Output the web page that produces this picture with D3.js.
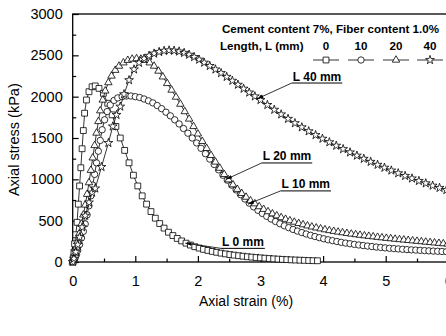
<!DOCTYPE html>
<html><head><meta charset="utf-8">
<script src="https://cdn.jsdelivr.net/npm/d3@7"></script>
<style>html,body{margin:0;padding:0;background:#fff}svg{display:block}</style>
</head><body>
<script>
// ---------- data ----------
const xTicks = [0,1,2,3,4,5,6];
const yTicks = [0,500,1000,1500,2000,2500,3000];
const legendTitle = "Cement content 7%, Fiber content 1.0%";
const legendSub = "Length, L (mm)";
const seriesNames = ["0","10","20","40"];
const seriesSymbols = ["square","circle","triangle","star"];

// L = 0 mm (squares): [strain %, stress kPa]
const dataL0 = [[0,0],[0.01,50],[0.02,120],[0.03,220],[0.05,330],[0.07,480],[0.09,700],[0.11,920],[0.13,1140],[0.15,1370],[0.17,1590],[0.19,1800],[0.22,1960],[0.26,2060],[0.31,2120],[0.36,2130],[0.42,2100],[0.49,2040],[0.56,1920],[0.63,1780],[0.69,1640],[0.76,1500],[0.83,1350],[0.90,1200],[0.97,1050],[1.04,920],[1.11,800],[1.18,700],[1.25,610],[1.32,530],[1.39,465],[1.46,410],[1.53,360],[1.60,320],[1.67,285],[1.74,255],[1.81,228],[1.88,205],[1.95,185],[2.02,168],[2.09,153],[2.16,140],[2.23,128],[2.30,117],[2.37,107],[2.44,98],[2.51,90],[2.58,83],[2.65,76],[2.72,70],[2.79,64],[2.86,59],[2.93,54],[3.00,50],[3.07,46],[3.14,42],[3.21,38],[3.28,35],[3.35,32],[3.42,29],[3.49,26],[3.56,24],[3.63,22],[3.70,20],[3.77,18],[3.84,16],[3.91,15]];

// L = 10 mm (circles)
const dataL10 = [[0,0],[0.02,20],[0.04,50],[0.06,90],[0.08,140],[0.11,210],[0.14,290],[0.17,370],[0.20,460],[0.23,570],[0.26,680],[0.29,800],[0.32,930],[0.35,1060],[0.38,1200],[0.41,1340],[0.44,1470],[0.47,1600],[0.51,1720],[0.55,1820],[0.60,1900],[0.66,1955],[0.72,1985],[0.79,2000],[0.86,2008],[0.93,2008],[1.00,2000],[1.07,1990],[1.14,1972],[1.21,1950],[1.28,1925],[1.35,1893],[1.42,1855],[1.49,1812],[1.56,1768],[1.63,1720],[1.70,1670],[1.77,1615],[1.84,1558],[1.91,1500],[1.98,1440],[2.05,1375],[2.12,1310],[2.19,1245],[2.26,1180],[2.33,1115],[2.40,1050],[2.47,990],[2.54,930],[2.61,872],[2.68,815],[2.75,762],[2.82,712],[2.89,667],[2.96,625],[3.03,587],[3.10,552],[3.17,520],[3.24,490],[3.31,463],[3.38,438],[3.45,415],[3.52,394],[3.59,374],[3.66,356],[3.73,339],[3.80,323],[3.87,308],[3.94,294],[4.01,281],[4.08,269],[4.15,258],[4.22,248],[4.29,238],[4.36,229],[4.43,221],[4.50,213],[4.57,206],[4.64,199],[4.71,193],[4.78,187],[4.85,181],[4.92,176],[4.99,171],[5.06,166],[5.13,162],[5.20,158],[5.27,154],[5.34,150],[5.41,147],[5.48,144],[5.55,141],[5.62,138],[5.69,135],[5.76,132],[5.83,130],[5.90,127],[5.97,125]];

// L = 20 mm (triangles)
const dataL20 = [[0,0],[0.02,50],[0.04,110],[0.06,180],[0.08,250],[0.11,350],[0.14,460],[0.17,570],[0.20,690],[0.23,820],[0.26,960],[0.29,1110],[0.32,1260],[0.35,1410],[0.38,1560],[0.41,1700],[0.44,1830],[0.48,1960],[0.52,2070],[0.57,2170],[0.62,2250],[0.68,2320],[0.74,2370],[0.81,2410],[0.88,2440],[0.95,2455],[1.02,2460],[1.09,2455],[1.16,2440],[1.23,2410],[1.30,2370],[1.37,2310],[1.44,2240],[1.51,2160],[1.58,2080],[1.65,1995],[1.72,1910],[1.79,1820],[1.86,1730],[1.93,1640],[2.00,1550],[2.07,1460],[2.14,1375],[2.21,1290],[2.28,1210],[2.35,1135],[2.42,1060],[2.49,995],[2.56,935],[2.63,880],[2.70,830],[2.77,785],[2.84,742],[2.91,705],[2.98,670],[3.05,638],[3.12,610],[3.19,584],[3.26,560],[3.33,538],[3.40,518],[3.47,500],[3.54,483],[3.61,467],[3.68,452],[3.75,438],[3.82,425],[3.89,413],[3.96,402],[4.03,391],[4.10,381],[4.17,372],[4.24,363],[4.31,355],[4.38,347],[4.45,339],[4.52,332],[4.59,325],[4.66,318],[4.73,312],[4.80,306],[4.87,300],[4.94,294],[5.01,288],[5.08,283],[5.15,277],[5.22,272],[5.29,267],[5.36,262],[5.43,257],[5.50,252],[5.57,247],[5.64,242],[5.71,237],[5.78,232],[5.85,227],[5.92,222],[5.99,218]];

// L = 40 mm (stars)
const dataL40 = [[0,0],[0.02,40],[0.05,120],[0.08,210],[0.11,300],[0.15,420],[0.20,560],[0.26,720],[0.31,840],[0.36,890],[0.46,1150],[0.57,1440],[0.64,1640],[0.70,1780],[0.76,1880],[0.82,2030],[0.90,2200],[0.98,2330],[1.06,2410],[1.14,2460],[1.22,2495],[1.30,2522],[1.38,2542],[1.46,2555],[1.54,2560],[1.62,2557],[1.70,2547],[1.78,2530],[1.86,2508],[1.94,2480],[2.02,2448],[2.10,2412],[2.19,2372],[2.28,2330],[2.37,2286],[2.46,2240],[2.55,2193],[2.64,2145],[2.73,2097],[2.82,2050],[2.91,2004],[3.00,1960],[3.11,1900],[3.22,1842],[3.33,1786],[3.44,1732],[3.55,1680],[3.66,1630],[3.77,1582],[3.88,1536],[3.99,1492],[4.10,1449],[4.21,1407],[4.32,1366],[4.43,1326],[4.54,1287],[4.65,1249],[4.76,1212],[4.87,1176],[4.98,1141],[5.09,1107],[5.20,1074],[5.31,1042],[5.42,1011],[5.53,981],[5.64,952],[5.75,924],[5.86,897],[5.97,871]];

// annotations: label, target point [strain, stress], label anchor [strain, stress] (left end of underline)
const annotLabels = ["L 40 mm","L 20 mm","L 10 mm","L 0 mm"];
const annotTargets = [[2.95,1975],[2.45,1000],[2.80,700],[1.80,228]];
const annotAnchors = [[3.50,2165],[3.02,1198],[3.32,860],[2.37,165]];

// ---------- drawing ----------
const W = 446, H = 336;
const FONT = "'Liberation Sans', Arial, sans-serif";
const svg = d3.select("body").append("svg").attr("width",W).attr("height",H)
  .style("font-family",FONT);
svg.append("rect").attr("width",W).attr("height",H).attr("fill","#fff");

const x = d3.scaleLinear().domain([0,6]).range([72.7,448.3]);
const y = d3.scaleLinear().domain([0,3000]).range([262,14]);

// frame
svg.append("rect").attr("x",x(0)).attr("y",y(3000)).attr("width",x(6)-x(0)).attr("height",y(0)-y(3000))
  .attr("fill","none").attr("stroke","#000").attr("stroke-width",1.3);

// axes
const xAxis = svg.append("g").attr("transform",`translate(0,${y(0)})`)
  .call(d3.axisBottom(x).tickValues(xTicks).tickSize(-6).tickPadding(14).tickFormat(d3.format("d")));
const xMinor = svg.append("g").attr("transform",`translate(0,${y(0)})`)
  .call(d3.axisBottom(x).tickValues(d3.range(0.5,6,1)).tickSize(-3.5).tickFormat(""));
const yAxis = svg.append("g").attr("transform",`translate(${x(0)},0)`)
  .call(d3.axisLeft(y).tickValues(yTicks).tickSize(-6).tickPadding(10).tickFormat(d3.format("d")));
const yMinor = svg.append("g").attr("transform",`translate(${x(0)},0)`)
  .call(d3.axisLeft(y).tickValues(d3.range(250,3000,500)).tickSize(-3.5).tickFormat(""));
[xAxis,xMinor,yAxis,yMinor].forEach(g=>{
  g.select(".domain").remove();
  g.selectAll("line").attr("stroke","#000").attr("stroke-width",1.2);
  g.selectAll("text").attr("fill","#000").style("font-size","14.5px").style("font-family",FONT);
});

svg.append("text").attr("x",246).attr("y",306).attr("text-anchor","middle")
  .style("font-size","14px").text("Axial strain (%)");
svg.append("text").attr("transform",`translate(19,${y(1480)}) rotate(-90)`).attr("text-anchor","middle")
  .style("font-size","14.5px").text("Axial stress (kPa)");

// symbols
const symType = {square:d3.symbolSquare, circle:d3.symbolCircle, triangle:d3.symbolTriangle, star:d3.symbolStar};
const symSize = {square:34, circle:32, triangle:24, star:24};
const allData = [dataL0, dataL10, dataL20, dataL40];

const clip = svg.append("clipPath").attr("id","plotclip").append("rect")
  .attr("x",x(0)-6).attr("y",y(3000)).attr("width",x(6)-x(0)+12).attr("height",y(0)-y(3000)+6);
const plot = svg.append("g").attr("clip-path","url(#plotclip)");
const line = d3.line().x(d=>x(d[0])).y(d=>y(d[1]));

allData.forEach((data,i)=>{
  const s = seriesSymbols[i];
  const g = plot.append("g");
  g.append("path").datum(data).attr("d",line).attr("fill","none").attr("stroke","#000").attr("stroke-width",0.8);
  g.selectAll("path.m").data(data).join("path").attr("class","m")
    .attr("transform",d=>`translate(${x(d[0])},${y(d[1])})`)
    .attr("d",d3.symbol(symType[s],symSize[s])())
    .attr("fill","#fff").attr("stroke","#000").attr("stroke-width",0.8);
});

// annotations
const ann = svg.append("g");
annotLabels.forEach((lab,i)=>{
  const ax = x(annotAnchors[i][0]), ay = y(annotAnchors[i][1]);
  const tx = x(annotTargets[i][0]), ty = y(annotTargets[i][1]);
  const t = ann.append("text").attr("x",ax+1).attr("y",ay-2.5).style("font-size","12px").style("font-weight","bold").text(lab);
  const w = t.node().getComputedTextLength();
  ann.append("line").attr("x1",ax).attr("x2",ax+w+2).attr("y1",ay).attr("y2",ay).attr("stroke","#000").attr("stroke-width",1);
  ann.append("line").attr("x1",ax).attr("y1",ay).attr("x2",tx).attr("y2",ty).attr("stroke","#000").attr("stroke-width",0.8);
  const ang = Math.atan2(ty-ay, tx-ax)*180/Math.PI;
  ann.append("path").attr("d","M0,0L-6,-1.8L-6,1.8Z").attr("fill","#000")
    .attr("transform",`translate(${tx},${ty}) rotate(${ang})`);
});

// legend
const leg = svg.append("g").style("font-weight","bold").style("font-size","11.6px");
leg.append("text").attr("x",439).attr("y",33).attr("text-anchor","end").text(legendTitle);
leg.append("text").attr("x",220).attr("y",50).text(legendSub);
const legX = [326,361,396,430];
seriesNames.forEach((n,i)=>{
  leg.append("text").attr("x",legX[i]).attr("y",50).attr("text-anchor","middle").text(n);
  leg.append("line").attr("x1",legX[i]-13).attr("x2",legX[i]+13).attr("y1",60).attr("y2",60).attr("stroke","#000").attr("stroke-width",0.8);
  const s = seriesSymbols[i];
  leg.append("path").attr("transform",`translate(${legX[i]},60)`).attr("d",d3.symbol(symType[s],symSize[s])())
    .attr("fill","#fff").attr("stroke","#000").attr("stroke-width",0.8);
});
</script>
</body></html>
